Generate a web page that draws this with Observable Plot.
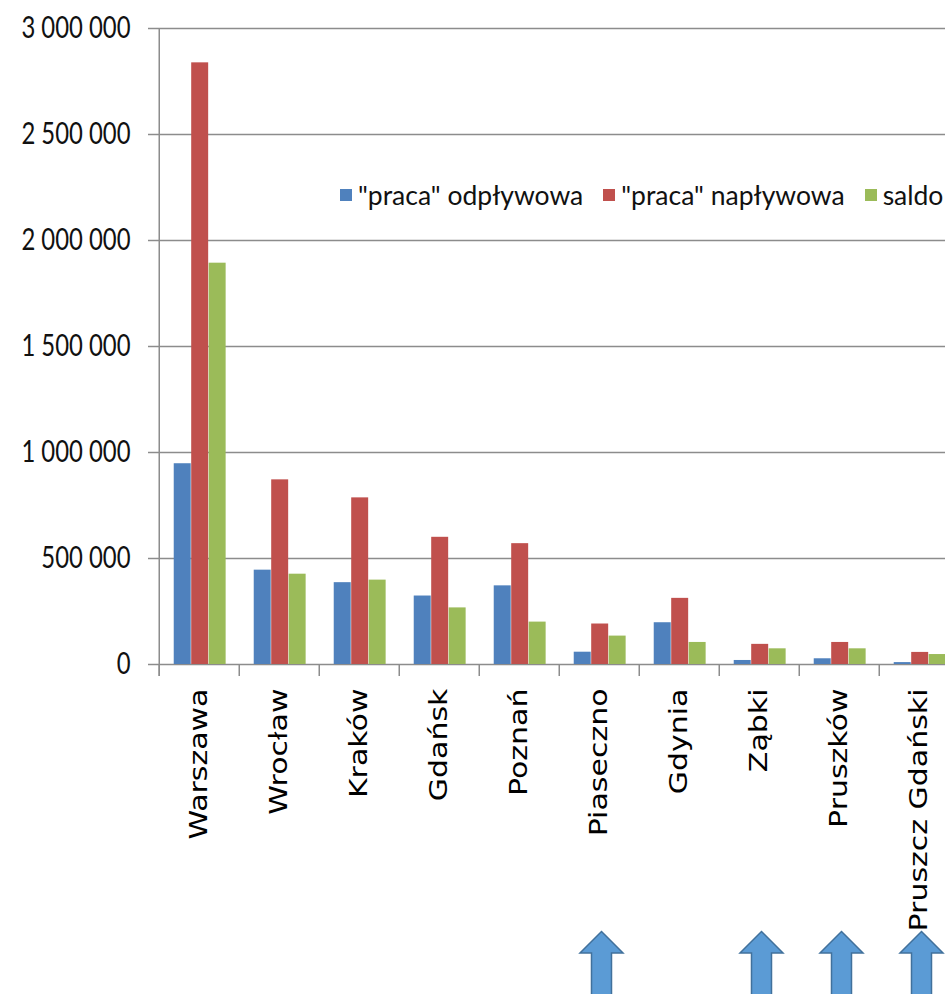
<!DOCTYPE html>
<html>
<head>
<meta charset="utf-8">
<script src="https://cdn.jsdelivr.net/npm/d3@7"></script>
<script src="https://cdn.jsdelivr.net/npm/@observablehq/plot@0.6"></script>
<style>
html, body { margin: 0; padding: 0; overflow: hidden; background: #fff; }
#wrap { position: relative; width: 945px; height: 994px; overflow: hidden; }
#legend { position: absolute; left: 340px; top: 179px; display: flex; align-items: center;
  font-family: Lato, sans-serif; font-size: 26.5px; color: #111; white-space: nowrap; }
#legend .item { display: flex; align-items: center; margin-right: 20px; }
#legend .sw { width: 12px; height: 12px; display: inline-block; margin-right: 6px; }
</style>
</head>
<body>
<div id="wrap"><div id="chart"></div><div id="legend"></div></div>
<script>
// ---- data ----
const cities = ["Warszawa", "Wrocław", "Kraków", "Gdańsk", "Poznań", "Piaseczno", "Gdynia", "Ząbki", "Pruszków", "Pruszcz Gdański"];
const outflow = [947000, 445000, 386000, 323000, 371000, 58000, 197000, 19000, 27000, 9000];
const inflow  = [2838000, 871000, 786000, 600000, 570000, 191000, 312000, 95000, 104000, 57000];
const balance = [1893000, 426000, 398000, 267000, 200000, 134000, 104000, 74000, 74000, 47000];
const seriesNames = ['"praca" odpływowa', '"praca" napływowa', 'saldo'];
const yTicks = [0, 500000, 1000000, 1500000, 2000000, 2500000, 3000000];
const highlighted = ["Piaseczno", "Ząbki", "Pruszków", "Pruszcz Gdański"];

// ---- style / layout ----
const seriesColors = ["#4F81BD", "#C0504D", "#9BBB59"];
const GRAY = "#8c8c8c";
const W = 961, H = 994, ML = 156, MR = 0, MT = 28, MB = 330;
const step = (W - ML - MR) / cities.length;
const barStart = 0.183, barW = 0.217;
const fmt = d3.formatLocale({thousands: "\u00a0", grouping: [3], decimal: ","}).format(",");

const seriesValues = [outflow, inflow, balance];
const barMarks = seriesValues.map((vals, k) => Plot.barY(cities, {
  x: d => d,
  y1: 0,
  y2: (d, i) => vals[i],
  fill: seriesColors[k],
  insetLeft: step * (barStart + k * barW),
  insetRight: step * (1 - barStart - (k + 1) * barW)
}));

const arrowSymbol = {
  draw(ctx) {
    ctx.moveTo(0, 0);
    ctx.lineTo(21.5, 21.5);
    ctx.lineTo(10, 21.5);
    ctx.lineTo(10, 90);
    ctx.lineTo(-10, 90);
    ctx.lineTo(-10, 21.5);
    ctx.lineTo(-21.5, 21.5);
    ctx.closePath();
  }
};

const chart = Plot.plot({
  width: W, height: H,
  marginLeft: ML, marginRight: MR, marginTop: MT, marginBottom: MB,
  style: {fontFamily: "Lato, sans-serif", fontSize: "10px", maxWidth: "none", background: "white", overflow: "hidden"},
  x: {type: "band", domain: cities, padding: 0, label: null, tickSize: 0, tickPadding: 24, tickRotate: -90},
  y: {domain: [0, 3000000], ticks: yTicks, tickFormat: fmt, tickSize: 8, tickPadding: 18, label: null},
  marks: [
    Plot.ruleY(yTicks, {y: d => d, stroke: GRAY, strokeWidth: 1.5}),
    Plot.ruleX([cities[0]], {x: d => d, dx: -step / 2, y1: 3000000, y2: 0, insetBottom: -12, stroke: GRAY, strokeWidth: 1.5}),
    Plot.ruleX(cities, {x: d => d, dx: -step / 2, y1: 0, y2: 0, insetBottom: -12, stroke: GRAY, strokeWidth: 1.5}),
    ...barMarks,
    Plot.dot(highlighted, {x: d => d, frameAnchor: "bottom", dx: 2, dy: 267, symbol: arrowSymbol, r: 5,
      fill: "#5B9BD5", stroke: "#41719C", strokeWidth: 1.5})
  ]
});
document.getElementById("chart").appendChild(chart);

// ---- text styling ----
const svg = d3.select(chart);
function squash(sel, sx, sy) {
  sel.each(function () {
    const t = this.getAttribute("transform") || "";
    this.setAttribute("transform", `${t} scale(${sx},${sy})`);
  });
}
svg.selectAll('g[aria-label="y-axis tick"]').attr("stroke", GRAY).attr("stroke-width", 1.5);
const yt = svg.selectAll('g[aria-label="y-axis tick label"] text')
  .style("font-family", "Lato, sans-serif").style("font-size", "31px").style("fill", "#111");
squash(yt, 0.77, 1);
const xt = svg.selectAll('g[aria-label="x-axis tick label"] text')
  .style("font-family", "'DejaVu Sans', sans-serif").style("font-size", "30px").style("fill", "#000");
squash(xt, 1, 0.82);

// ---- legend ----
const legend = d3.select("#legend");
seriesNames.forEach((name, k) => {
  const it = legend.append("div").attr("class", "item");
  it.append("span").attr("class", "sw").style("background", seriesColors[k]);
  it.append("span").text(name);
});
</script>
</body>
</html>
